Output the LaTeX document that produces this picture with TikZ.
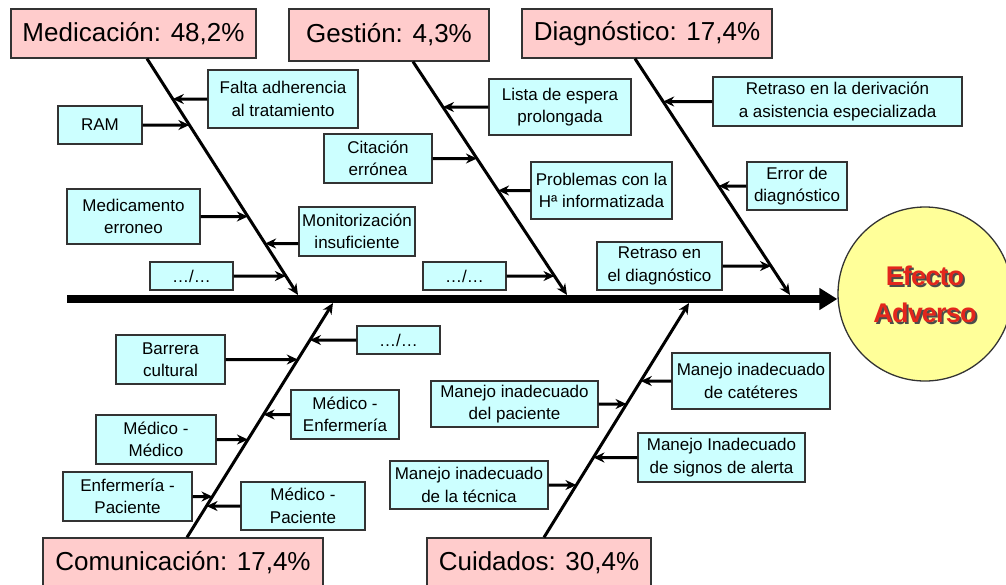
\documentclass[tikz,border=0pt]{standalone}
\usepackage{fontspec}
\setmainfont{Liberation Sans}
\usetikzlibrary{arrows.meta}
\definecolor{rosa}{HTML}{FFCCCC}
\definecolor{celeste}{HTML}{CCFFFF}
\definecolor{amarillo}{HTML}{FFFF99}
\definecolor{rojo}{HTML}{E3261C}
\begin{document}
\begin{tikzpicture}[x=1pt,y=-1pt,>={Stealth[length=11pt,width=10pt]},
    titulo/.style={draw=black!80,fill=rosa,line width=1.3pt,inner sep=0pt,font=\fontsize{26}{30}\selectfont},
    causa/.style={draw=black!80,fill=celeste,line width=1.3pt,inner sep=0pt,align=center,font=\fontsize{17}{22.5}\selectfont},
    espina/.style={line width=3pt,->},
    letrero/.style={align=center,font=\fontsize{27}{37}\selectfont\bfseries\addfontfeatures{LetterSpace=-3}}]
\useasboundingbox (0,0) rectangle (1006,584);
\node[titulo,minimum width=245pt,minimum height=49pt](med) at (133.5,33.5){Medicación: 48,2\%};
\node[titulo,minimum width=200pt,minimum height=52pt](ges) at (389,35){Gestión: 4,3\%};
\node[titulo,minimum width=250pt,minimum height=49pt](dia) at (647,33.5){Diagnóstico: 17,4\%};
\node[titulo,minimum width=280pt,minimum height=49pt](com) at (183,562.5){Comunicación: 17,4\%};
\node[titulo,minimum width=224pt,minimum height=49pt](cui) at (539,562.5){Cuidados: 30,4\%};
\node[circle,draw=black!80,line width=1.3pt,fill=amarillo,minimum size=174pt,inner sep=0pt](efecto) at (925,294){};
\node[letrero,black!70](sombra) at ([xshift=2pt,yshift=-2pt]efecto){Efecto\\Adverso};
\node[letrero,rojo](texto) at (efecto){Efecto\\Adverso};
\coordinate (eje) at (67,299);
\draw[line width=7.5pt,-{Triangle[length=18pt,width=21pt]}](eje)--(eje -| efecto.west);
\coordinate (m1) at ([xshift=13.5pt]med.south); \coordinate (m2) at (298,295);
\coordinate (g1) at ([xshift=24pt]ges.south); \coordinate (g2) at (567,295);
\coordinate (d1) at ([xshift=-12pt]dia.south); \coordinate (d2) at (790,295);
\coordinate (c1) at ([xshift=4pt]com.north); \coordinate (c2) at (333,303);
\coordinate (u1) at ([xshift=5pt]cui.north); \coordinate (u2) at (689,303);
\foreach \a/\b in {m1/m2,g1/g2,d1/d2,c1/c2,u1/u2} \draw[espina](\a)--(\b);
\node[causa,minimum width=150pt,minimum height=58pt](falta) at (283,99){Falta adherencia\\al tratamiento};
\node[causa,minimum width=84pt,minimum height=38pt](ram) at (100,125){RAM};
\node[causa,minimum width=133pt,minimum height=55pt](medic) at (133.5,216.5){Medicamento\\erroneo};
\node[causa,minimum width=116pt,minimum height=49pt](monit) at (357,231.5){Monitorización\\insuficiente};
\node[causa,minimum width=83pt,minimum height=28pt](puntosM) at (191.5,276){…/…};
\node[causa,minimum width=108pt,minimum height=49pt](citac) at (378,158.5){Citación\\errónea};
\node[causa,minimum width=142pt,minimum height=56pt](lista) at (560,107){Lista de espera\\prolongada};
\node[causa,minimum width=141pt,minimum height=57pt](histo) at (601.5,190.5){Problemas con la\\Hª informatizada};
\node[causa,minimum width=83pt,minimum height=28pt](puntosG) at (464.5,276){…/…};
\node[causa,minimum width=249pt,minimum height=49pt](deriv) at (837.5,101.5){Retraso en la derivación\\a asistencia especializada};
\node[causa,minimum width=100pt,minimum height=48pt](error) at (797,186){Error de\\diagnóstico};
\node[causa,minimum width=125pt,minimum height=48pt](retraso) at (659.5,266){Retraso en\\el diagnóstico};
\node[causa,minimum width=83pt,minimum height=28pt](puntosC) at (398.5,340){…/…};
\node[causa,minimum width=109pt,minimum height=49pt](barrera) at (170.5,359.5){Barrera\\cultural};
\node[causa,minimum width=108pt,minimum height=49pt](medenf) at (345,414.5){Médico -\\Enfermería};
\node[causa,minimum width=120pt,minimum height=49pt](medmed) at (156,439.5){Médico -\\Médico};
\node[causa,minimum width=129pt,minimum height=49pt](enfpac) at (127.5,496.5){Enfermería -\\Paciente};
\node[causa,minimum width=124pt,minimum height=48pt](medpac) at (303,506){Médico -\\Paciente};
\node[causa,minimum width=158pt,minimum height=56pt](cateter) at (751,381){Manejo inadecuado\\de catéteres};
\node[causa,minimum width=167pt,minimum height=46pt](pacien) at (514.5,404){Manejo inadecuado\\del paciente};
\node[causa,minimum width=167pt,minimum height=49pt](signos) at (721.5,457.5){Manejo Inadecuado\\de signos de alerta};
\node[causa,minimum width=158pt,minimum height=48pt](tecnica) at (469,485){Manejo inadecuado\\de la técnica};
\coordinate (mon1) at ([yshift=-12pt]monit.west); \coordinate (mon2) at ([yshift=-12pt]monit.east);
\draw[espina](falta.west)--(intersection of falta.west--falta.east and m1--m2);
\draw[espina](ram.east)--(intersection of ram.west--ram.east and m1--m2);
\draw[espina](medic.east)--(intersection of medic.west--medic.east and m1--m2);
\draw[espina](mon1)--(intersection of mon1--mon2 and m1--m2);
\draw[espina](puntosM.east)--(intersection of puntosM.west--puntosM.east and m1--m2);
\draw[espina](citac.east)--(intersection of citac.west--citac.east and g1--g2);
\draw[espina](lista.west)--(intersection of lista.west--lista.east and g1--g2);
\draw[espina](histo.west)--(intersection of histo.west--histo.east and g1--g2);
\draw[espina](puntosG.east)--(intersection of puntosG.west--puntosG.east and g1--g2);
\draw[espina](deriv.west)--(intersection of deriv.west--deriv.east and d1--d2);
\draw[espina](error.west)--(intersection of error.west--error.east and d1--d2);
\draw[espina](retraso.east)--(intersection of retraso.west--retraso.east and d1--d2);
\draw[espina](puntosC.west)--(intersection of puntosC.west--puntosC.east and c1--c2);
\draw[espina](barrera.east)--(intersection of barrera.west--barrera.east and c1--c2);
\draw[espina](medenf.west)--(intersection of medenf.west--medenf.east and c1--c2);
\draw[espina](medmed.east)--(intersection of medmed.west--medmed.east and c1--c2);
\draw[espina](enfpac.east)--(intersection of enfpac.west--enfpac.east and c1--c2);
\draw[espina](medpac.west)--(intersection of medpac.west--medpac.east and c1--c2);
\draw[espina](cateter.west)--(intersection of cateter.west--cateter.east and u1--u2);
\draw[espina](pacien.east)--(intersection of pacien.west--pacien.east and u1--u2);
\draw[espina](signos.west)--(intersection of signos.west--signos.east and u1--u2);
\draw[espina](tecnica.east)--(intersection of tecnica.west--tecnica.east and u1--u2);
\end{tikzpicture}
\end{document}
